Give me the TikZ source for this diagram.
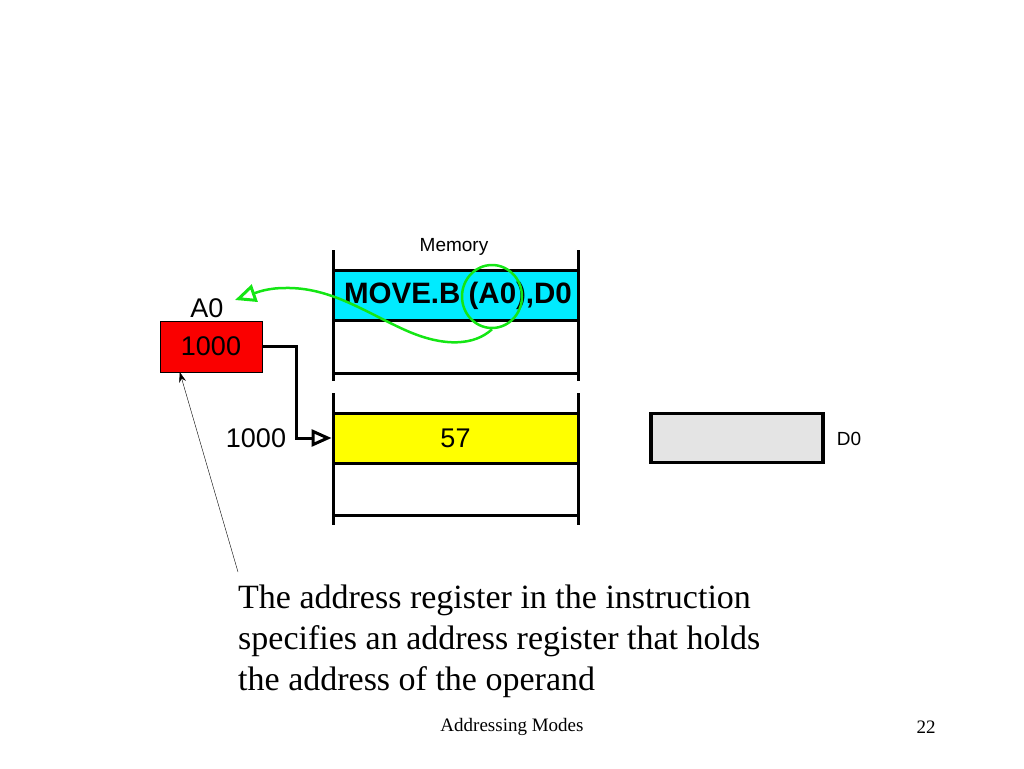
\documentclass[tikz,border=0pt]{standalone}
\usepackage{fontspec}
\setmainfont{Liberation Serif}
\setsansfont{Liberation Sans}
\usetikzlibrary{arrows.meta,calc,shapes.geometric}
\definecolor{cyanfill}{RGB}{0,235,255}
\definecolor{redfill}{RGB}{250,0,0}
\definecolor{yellowfill}{RGB}{255,255,0}
\definecolor{grayfill}{RGB}{228,228,228}
\definecolor{greenline}{RGB}{20,230,20}
\tikzset{
  memline/.style={line width=3pt},
  cell/.style={draw, line width=3pt, minimum width=245pt, minimum height=50pt, inner sep=0pt, font=\sffamily\fontsize{27}{27}\selectfont},
  lbl/.style={font=\sffamily\fontsize{27}{27}\selectfont, inner sep=0pt},
  small/.style={font=\sffamily\fontsize{19}{19}\selectfont, inner sep=0pt},
}
\begin{document}
\begin{tikzpicture}[x=1pt,y=-1pt]
\useasboundingbox (0,0) rectangle (1024,768);
% memory frame
\draw[memline] (333,250) -- (333,381);
\draw[memline] (578,250) -- (578,381);
\draw[memline] (333,393) -- (333,525);
\draw[memline] (578,393) -- (578,525);
\node[cell, fill=cyanfill] (instr) at (455.5,295.5) {};
\node[font=\sffamily\bfseries\fontsize{29.5}{29.5}\selectfont, inner sep=0pt] (instrtext) at (458,296) {MOVE.B (A0),D0};
\draw[memline] (333,373) -- (578,373);
\node[cell, fill=yellowfill] (c57) at (455.5,438) {57};
\draw[memline] (333,515) -- (578,515);
\node[small] (mem) at (454,247) {Memory};
% A0 register
\node[draw, thin, fill=redfill, minimum width=102pt, minimum height=51pt, inner sep=0pt, font=\sffamily\fontsize{27}{27}\selectfont] (a0) at (211,346.5) {1000};
\node[lbl] (a0lab) at (207,308) {A0};
\node[lbl] (addr) at (256,438) {1000};
\draw[memline, -{Triangle[open, length=20pt, width=17pt, line width=3pt]}] (a0.east) -- ++(34,0) |- (c57.west);
% D0 register
\node[draw, line width=3.5pt, fill=grayfill, minimum width=172pt, minimum height=49pt, inner sep=0pt] (d0) at (737,438) {};
\node[small] (d0lab) at (849,439) {D0};
% green annotation
\node[draw=greenline, line width=2.5pt, ellipse, minimum width=60pt, minimum height=63pt, inner sep=0pt] (circ) at (492,296.5) {};
\coordinate (gend) at (235,300);
\draw[greenline, line width=2.5pt, -{Triangle[open, length=21pt, width=18pt, line width=3pt]}]
  (circ.south) .. controls (475,345) and (445,348) .. (405,330)
  .. controls (365,312) and (330,287) .. (285,288)
  .. controls (268,288) and (258,292) .. (gend);
% annotation text
\coordinate (tstart) at (238,572);
\draw[thin, -{Stealth[length=10pt, width=7pt]}] (tstart) -- ($(a0.south west)+(20,0)$);
\node[anchor=north west, align=left, inner sep=0pt, font=\fontsize{34}{41}\selectfont] (desc) at (238,585) {The address register in the instruction\\specifies an address register that holds\\the address of the operand};
\node[font=\fontsize{19}{19}\selectfont, inner sep=0pt] (foot) at (512,727) {Addressing Modes};
\node[font=\fontsize{19}{19}\selectfont, inner sep=0pt] (page) at (926,727) {22};
\end{tikzpicture}
\end{document}
